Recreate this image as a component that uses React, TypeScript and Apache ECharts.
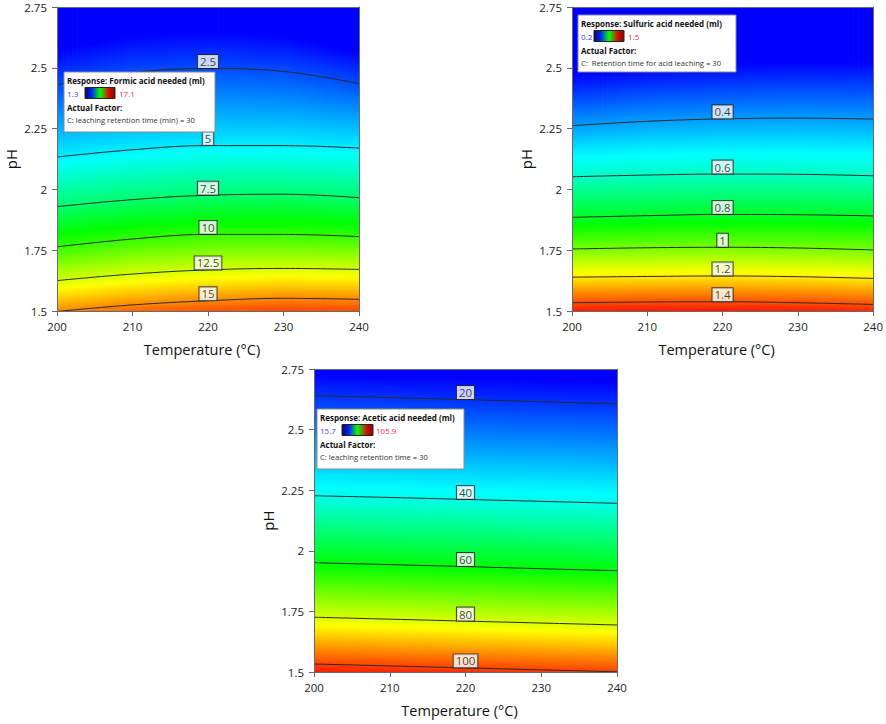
import React, { useEffect, useRef } from "react";
import * as echarts from "echarts";

// ---------- data ----------
const temps = [200, 210, 220, 230, 240];
const tempTicks = [200, 210, 220, 230, 240];
const pHTicks = [1.5, 1.75, 2, 2.25, 2.5, 2.75];
const labelTemp = 220;

// Formic acid needed (ml): pH position of each contour at temps
const formicLevels = [2.5, 5, 7.5, 10, 12.5, 15];
const formicLines = [
  [2.43, 2.48, 2.497, 2.485, 2.435],
  [2.133, 2.163, 2.18, 2.18, 2.17],
  [1.929, 1.958, 1.976, 1.98, 1.966],
  [1.764, 1.796, 1.815, 1.815, 1.806],
  [1.625, 1.652, 1.669, 1.675, 1.671],
  [1.498, 1.525, 1.542, 1.552, 1.548],
];
const formicRange = [1.3, 17.1];

// Sulfuric acid needed (ml)
const sulfuricLevels = [0.4, 0.6, 0.8, 1, 1.2, 1.4];
const sulfuricLines = [
  [2.262, 2.28, 2.29, 2.293, 2.289],
  [2.052, 2.059, 2.063, 2.062, 2.056],
  [1.885, 1.892, 1.897, 1.896, 1.891],
  [1.755, 1.76, 1.762, 1.759, 1.751],
  [1.639, 1.642, 1.644, 1.641, 1.634],
  [1.534, 1.537, 1.538, 1.534, 1.527],
];
const sulfuricRange = [0.2, 1.5];

// Acetic acid needed (ml)
const aceticLevels = [20, 40, 60, 80, 100];
const aceticLines = [
  [2.64, 2.632, 2.624, 2.615, 2.606],
  [2.227, 2.22, 2.212, 2.204, 2.196],
  [1.951, 1.943, 1.935, 1.926, 1.918],
  [1.726, 1.718, 1.71, 1.702, 1.694],
  [1.533, 1.525, 1.517, 1.509, 1.501],
];
const aceticRange = [15.7, 105.9];

const legendTitles = [
  "Response: Formic acid needed (ml)",
  "Response: Sulfuric acid needed (ml)",
  "Response: Acetic acid needed (ml)",
];
const legendFactors = [
  "C: leaching retention time (min) = 30",
  "C:  Retention time for acid leaching = 30",
  "C: leaching retention time = 30",
];

// ---------- helpers ----------
const FONT = '"Open Sans", "Noto Sans", sans-serif';

function interpAt(xs: number[], ys: number[], x: number) {
  if (x <= xs[0]) return ys[0];
  for (let i = 0; i < xs.length - 1; i++) {
    if (x <= xs[i + 1]) {
      const f = (x - xs[i]) / (xs[i + 1] - xs[i]);
      return ys[i] + f * (ys[i + 1] - ys[i]);
    }
  }
  return ys[ys.length - 1];
}

function valueAt(lines: number[][], levels: number[], T: number, pH: number) {
  const p = lines.map((l) => interpAt(temps, l, T));
  const n = p.length;
  const lin = (i: number, j: number) =>
    levels[i] + ((pH - p[i]) * (levels[j] - levels[i])) / (p[j] - p[i]);
  if (pH >= p[0]) return lin(0, 1);
  if (pH <= p[n - 1]) return lin(n - 2, n - 1);
  for (let i = 0; i < n - 1; i++) {
    if (pH <= p[i] && pH >= p[i + 1]) return lin(i, i + 1);
  }
  return levels[n - 1];
}

const rampStops = [
  [0, 0, 255],
  [0, 255, 255],
  [0, 255, 0],
  [255, 255, 0],
  [255, 0, 0],
];
function ramp(f: number) {
  const t = Math.max(0, Math.min(1, f)) * 4;
  const i = Math.min(3, Math.floor(t));
  const u = t - i;
  const a = rampStops[i];
  const b = rampStops[i + 1];
  const c = a.map((v, k) => Math.round(v + (b[k] - v) * u));
  return `rgb(${c[0]},${c[1]},${c[2]})`;
}

function bgSeries(g: number, lines: number[][], levels: number[], range: number[]) {
  const n = 60;
  const cols: number[][] = [];
  for (let i = 0; i < n; i++) {
    cols.push([200 + (40 * i) / n, 200 + (40 * (i + 1)) / n, 2.75, 1.5]);
  }
  return {
    type: "custom",
    xAxisIndex: g,
    yAxisIndex: g,
    silent: true,
    clip: true,
    z: 1,
    encode: { x: [0, 1], y: [2, 3] },
    data: cols,
    renderItem: (params: any, api: any) => {
      const t0 = api.value(0);
      const t1 = api.value(1);
      const tm = (t0 + t1) / 2;
      const a = api.coord([t0, 2.75]);
      const b = api.coord([t1, 1.5]);
      const m = 100;
      const stops: any[] = [];
      for (let k = 0; k <= m; k++) {
        const ph = 2.75 - (1.25 * k) / m;
        const v = valueAt(lines, levels, tm, ph);
        stops.push({ offset: k / m, color: ramp((v - range[0]) / (range[1] - range[0])) });
      }
      return {
        type: "rect",
        shape: { x: a[0], y: a[1], width: b[0] - a[0] + 0.8, height: b[1] - a[1] },
        style: { fill: new echarts.graphic.LinearGradient(0, 0, 0, 1, stops) },
      };
    },
  };
}

function contourSeries(g: number, lines: number[][]) {
  return lines.map((l) => ({
    type: "line",
    xAxisIndex: g,
    yAxisIndex: g,
    data: temps.map((t, j) => [t, l[j]]),
    smooth: 0.4,
    symbol: "none",
    silent: true,
    z: 3,
    lineStyle: { color: "#2a2a2a", width: 1 },
  }));
}

function labelSeries(g: number, lines: number[][], levels: number[]) {
  return {
    type: "scatter",
    xAxisIndex: g,
    yAxisIndex: g,
    symbolSize: 1,
    silent: true,
    z: 4,
    itemStyle: { color: "rgba(0,0,0,0)" },
    emphasis: { disabled: true },
    data: levels.map((L, i) => ({
      name: String(L),
      value: [labelTemp, interpAt(temps, lines[i], labelTemp)],
    })),
    label: {
      show: true,
      position: "top",
      distance: 0,
      formatter: (p: any) => p.name,
      fontFamily: FONT,
      fontSize: 11.5,
      lineHeight: 13,
      color: "#111",
      backgroundColor: "#ffffff",
      borderColor: "#222",
      borderWidth: 1,
      padding: [0, 2, 0, 2],
    },
  };
}

const grids = [
  { left: 57, top: 7, width: 302, height: 304 },
  { left: 572, top: 7, width: 303, height: 304 },
  { left: 314, top: 369, width: 303, height: 303 },
];

const AXIS_COLOR = "#6a6a6a";

function xAxisMain(g: number) {
  return {
    type: "value",
    gridIndex: g,
    min: tempTicks[0],
    max: tempTicks[tempTicks.length - 1],
    interval: tempTicks[1] - tempTicks[0],
    z: 5,
    name: "Temperature (°C)",
    nameLocation: "middle",
    nameGap: 31,
    nameTextStyle: { fontFamily: FONT, fontSize: 14.5, color: "#111", padding: [0, 12, 0, 0] },
    axisLine: { show: true, lineStyle: { color: AXIS_COLOR } },
    axisTick: { show: true, length: 5, lineStyle: { color: AXIS_COLOR } },
    axisLabel: { fontFamily: FONT, fontSize: 11.5, color: "#222", margin: 9 },
    splitLine: { show: false },
  };
}
function yAxisMain(g: number) {
  return {
    type: "value",
    gridIndex: g,
    min: pHTicks[0],
    max: pHTicks[pHTicks.length - 1],
    interval: pHTicks[1] - pHTicks[0],
    z: 5,
    name: "pH",
    nameLocation: "middle",
    nameGap: 39,
    nameTextStyle: { fontFamily: FONT, fontSize: 15, color: "#111" },
    axisLine: { show: true, lineStyle: { color: AXIS_COLOR } },
    axisTick: { show: true, length: 5, lineStyle: { color: AXIS_COLOR } },
    axisLabel: { fontFamily: FONT, fontSize: 11.5, color: "#222", margin: 10 },
    splitLine: { show: false },
  };
}
function xAxisTop(g: number) {
  return {
    type: "value",
    gridIndex: g,
    position: "top",
    min: 200,
    max: 240,
    z: 5,
    axisLine: { show: true, lineStyle: { color: AXIS_COLOR } },
    axisTick: { show: false },
    axisLabel: { show: false },
    splitLine: { show: false },
  };
}
function yAxisRight(g: number) {
  return {
    type: "value",
    gridIndex: g,
    position: "right",
    min: 1.5,
    max: 2.75,
    z: 5,
    axisLine: { show: true, lineStyle: { color: AXIS_COLOR } },
    axisTick: { show: false },
    axisLabel: { show: false },
    splitLine: { show: false },
  };
}

const Z = 100;

function legendElements(
  left: number,
  top: number,
  w: number,
  h: number,
  title: string,
  minText: string,
  maxText: string,
  barX: number,
  barW: number,
  maxX: number,
  factor: string
) {
  const bar = new echarts.graphic.LinearGradient(0, 0, 1, 0, [
    { offset: 0, color: "#0a0a5a" },
    { offset: 0.22, color: "#0020ff" },
    { offset: 0.5, color: "#00ff00" },
    { offset: 0.82, color: "#e00000" },
    { offset: 1, color: "#7a1000" },
  ]);
  return [
    {
      type: "rect",
      z: Z,
      shape: { x: left, y: top, width: w, height: h },
      style: { fill: "#fff", stroke: "#8a8a8a", lineWidth: 1 },
    },
    {
      type: "text",
      z: Z + 1,
      x: left + 3,
      y: top + 8,
      style: { text: title, font: `bold 8px ${FONT}`, fill: "#111", verticalAlign: "middle" },
    },
    {
      type: "text",
      z: Z + 1,
      x: left + 3,
      y: top + 21.5,
      style: { text: minText, font: `8px ${FONT}`, fill: "#3b3bff", verticalAlign: "middle" },
    },
    {
      type: "rect",
      z: Z + 1,
      shape: { x: left + barX, y: top + 15.5, width: barW, height: 11 },
      style: { fill: bar, stroke: "#222", lineWidth: 1 },
    },
    {
      type: "text",
      z: Z + 1,
      x: left + maxX,
      y: top + 21.5,
      style: { text: maxText, font: `8px ${FONT}`, fill: "#ff2a3a", verticalAlign: "middle" },
    },
    {
      type: "text",
      z: Z + 1,
      x: left + 3,
      y: top + 35,
      style: { text: "Actual Factor:", font: `bold 8px ${FONT}`, fill: "#111", verticalAlign: "middle" },
    },
    {
      type: "text",
      z: Z + 1,
      x: left + 3,
      y: top + 48,
      style: { text: factor, font: `7.6px ${FONT}`, fill: "#333", verticalAlign: "middle" },
    },
  ];
}

export default function App() {
  const ref = useRef<HTMLDivElement>(null);
  useEffect(() => {
    document.body.style.margin = "0";
    document.body.style.overflow = "hidden";
    if (!ref.current) return;
    const chart = echarts.init(ref.current, undefined, { renderer: "svg" });
    const option: any = {
      animation: false,
      backgroundColor: "#fff",
      grid: grids.map((g) => ({ ...g, containLabel: false })),
      xAxis: [0, 1, 2].map(xAxisMain).concat([0, 1, 2].map(xAxisTop) as any),
      yAxis: [0, 1, 2].map(yAxisMain).concat([0, 1, 2].map(yAxisRight) as any),
      series: [
        bgSeries(0, formicLines, formicLevels, formicRange),
        bgSeries(1, sulfuricLines, sulfuricLevels, sulfuricRange),
        bgSeries(2, aceticLines, aceticLevels, aceticRange),
        ...contourSeries(0, formicLines),
        ...contourSeries(1, sulfuricLines),
        ...contourSeries(2, aceticLines),
        labelSeries(0, formicLines, formicLevels),
        labelSeries(1, sulfuricLines, sulfuricLevels),
        labelSeries(2, aceticLines, aceticLevels),
      ],
      graphic: {
        elements: [
          ...legendElements(64, 72, 151, 60, legendTitles[0], String(formicRange[0]), String(formicRange[1]), 21, 30, 55, legendFactors[0]),
          ...legendElements(578, 15, 158, 57, legendTitles[1], String(sulfuricRange[0]), String(sulfuricRange[1]), 16, 30, 50, legendFactors[1]),
          ...legendElements(317, 409, 147, 60, legendTitles[2], String(aceticRange[0]), String(aceticRange[1]), 25, 31, 59, legendFactors[2]),
        ],
      },
    };
    chart.setOption(option);
    return () => chart.dispose();
  }, []);
  return <div ref={ref} style={{ width: 886, height: 724 }} />;
}
